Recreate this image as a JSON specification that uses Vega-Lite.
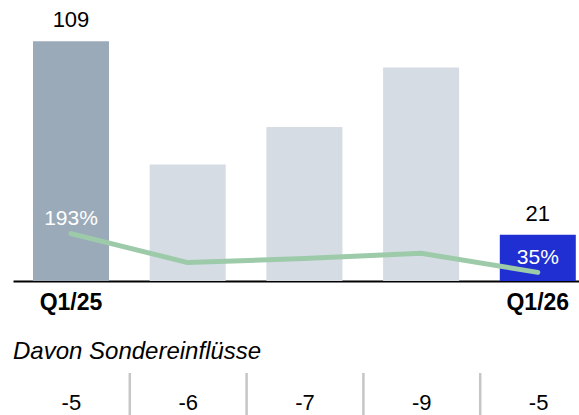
{
  "$schema": "https://vega.github.io/schema/vega-lite/v6.json",
  "padding": {"top": 0, "left": 13, "right": 0, "bottom": 0},
  "background": "white",
  "config": {
    "view": {"stroke": null},
    "font": "Liberation Sans",
    "text": {"font": "Liberation Sans"}
  },
  "data": {
    "values": [
      {"q": "Q1/25", "value": 109, "pct": 1.93, "sonder": -5},
      {"q": "Q2/25", "value": 53, "pct": 0.75, "sonder": -6},
      {"q": "Q3/25", "value": 70, "pct": 0.92, "sonder": -7},
      {"q": "Q4/25", "value": 97, "pct": 1.13, "sonder": -9},
      {"q": "Q1/26", "value": 21, "pct": 0.35, "sonder": -5}
    ]
  },
  "spacing": 25,
  "vconcat": [
    {
      "width": 566,
      "height": 281,
      "encoding": {
        "x": {
          "field": "q",
          "type": "nominal",
          "sort": null,
          "scale": {"domain": ["Q1/25", "Q2/25", "Q3/25", "Q4/25", "Q1/26"], "paddingInner": 0.3488, "paddingOuter": 0.0994, "align": 0.862},
          "axis": {
            "title": null,
            "labelAngle": 0,
            "ticks": false,
            "domainColor": "#000000",
            "domainWidth": 2,
            "labelFont": "Liberation Sans",
            "labelFontSize": 23,
            "labelFontWeight": "bold",
            "labelColor": "#000000",
            "labelPadding": 10,
            "labelExpr": "indexof(['Q1/25','Q1/26'], datum.value) >= 0 ? datum.label : ''"
          }
        }
      },
      "layer": [
        {
          "mark": {"type": "bar"},
          "encoding": {
            "y": {"field": "value", "type": "quantitative", "scale": {"domain": [0, 127.7], "nice": false}, "axis": null},
            "color": {
              "field": "q",
              "type": "nominal",
              "sort": null,
              "scale": {"domain": ["Q1/25", "Q2/25", "Q3/25", "Q4/25", "Q1/26"], "range": ["#9AAAB9", "#D5DCE4", "#D5DCE4", "#D5DCE4", "#1F2FD2"]},
              "legend": null
            }
          }
        },
        {
          "transform": [{"filter": "datum.q == 'Q1/25' || datum.q == 'Q1/26'"}],
          "mark": {"type": "text", "baseline": "alphabetic", "dy": -14, "fontSize": 22, "color": "#000000"},
          "encoding": {
            "y": {"field": "value", "type": "quantitative", "scale": {"domain": [0, 127.7], "nice": false}, "axis": null},
            "text": {"field": "value", "type": "quantitative"}
          }
        },
        {
          "layer": [
            {
              "mark": {"type": "line", "strokeWidth": 5, "strokeCap": "round", "strokeJoin": "round", "color": "#9DCBAA"},
              "encoding": {
                "y": {"field": "pct", "type": "quantitative", "scale": {"domain": [0, 11.44], "nice": false}, "axis": null}
              }
            },
            {
              "transform": [{"filter": "datum.q == 'Q1/25' || datum.q == 'Q1/26'"}],
              "mark": {"type": "text", "baseline": "alphabetic", "dy": -8.5, "fontSize": 21, "color": "#FFFFFF"},
              "encoding": {
                "y": {"field": "pct", "type": "quantitative", "scale": {"domain": [0, 11.44], "nice": false}, "axis": null},
                "text": {"field": "pct", "type": "quantitative", "format": ".0%"}
              }
            }
          ]
        }
      ],
      "resolve": {"scale": {"y": "independent"}}
    },
    {
      "width": 584,
      "height": 60,
      "title": {
        "text": "Davon Sondereinflüsse",
        "anchor": "start",
        "font": "Liberation Sans",
        "fontSize": 24,
        "fontStyle": "italic",
        "fontWeight": "normal",
        "color": "#000000",
        "offset": 8
      },
      "encoding": {
        "x": {
          "field": "q",
          "type": "nominal",
          "sort": null,
          "scale": {"domain": ["Q1/25", "Q2/25", "Q3/25", "Q4/25", "Q1/26"], "paddingInner": 0, "paddingOuter": 0},
          "axis": null
        }
      },
      "layer": [
        {
          "transform": [{"filter": "datum.q != 'Q1/25'"}],
          "mark": {"type": "rule", "color": "#C6C6C6", "strokeWidth": 2.5},
          "encoding": {
            "x": {"field": "q", "type": "nominal", "sort": null, "bandPosition": 0}
          }
        },
        {
          "mark": {"type": "text", "fontSize": 22, "color": "#000000"},
          "encoding": {
            "text": {"field": "sonder", "type": "nominal"}
          }
        }
      ]
    }
  ]
}
